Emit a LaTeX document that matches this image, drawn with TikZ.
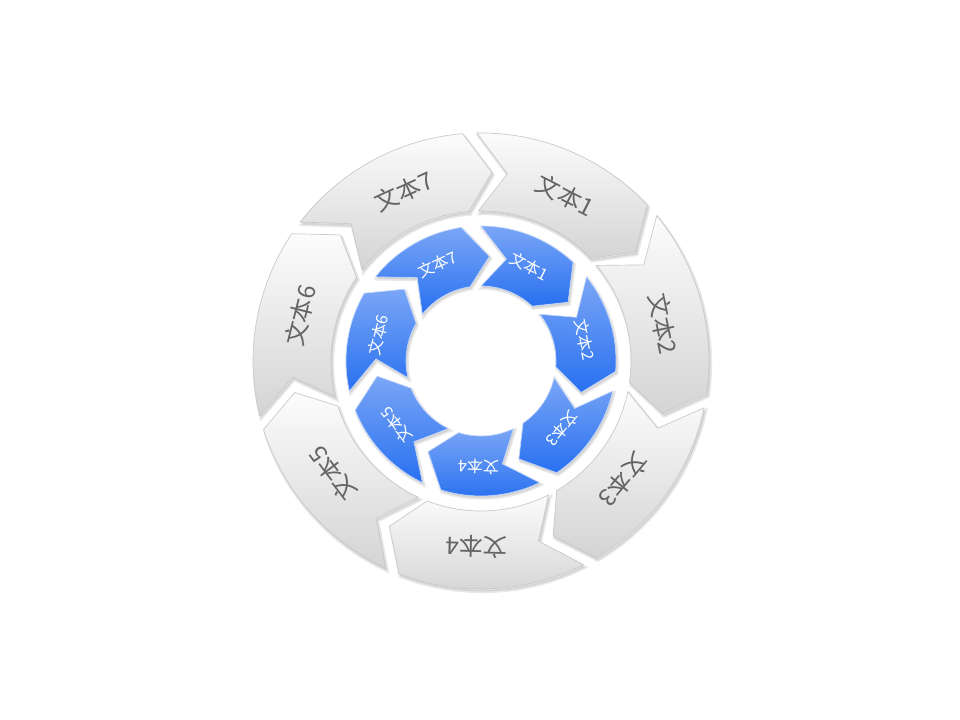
\documentclass[tikz,border=0pt]{standalone}
\usepackage{fontspec}
\setmainfont{Noto Sans CJK SC}
\definecolor{blueA}{RGB}{122,166,246}
\definecolor{blueB}{RGB}{40,112,240}
\definecolor{grayA}{RGB}{252,252,252}
\definecolor{grayB}{RGB}{212,212,212}
\definecolor{grayEdge}{RGB}{200,200,200}
\definecolor{labelgray}{RGB}{100,100,100}
\begin{document}
\begin{tikzpicture}[x=0.75pt,y=0.75pt,
  graypart/.style={top color=grayA, bottom color=grayB, draw=grayEdge, line width=0.5pt},
  bluepart/.style={top color=blueA, bottom color=blueB, draw=white!55!blueA, line width=0.5pt},
  shadowpart/.style={fill=black, draw=black, line width=2.5pt, opacity=0.09},
  outerlabel/.style={text=labelgray, font=\fontsize{18}{18}\selectfont, inner sep=0pt},
  innerlabel/.style={text=white, font=\fontsize{12}{12}\selectfont, inner sep=0pt}]
\useasboundingbox (-481,-359) rectangle (479,361);
% ---------- outer ring ----------
\foreach \i/\c in {1/63,2/11.57,3/-39.86,4/-91.29,5/-142.71,6/165.86,7/114.43} {
  \pgfmathsetmacro\aA{\c+28}
  \pgfmathsetmacro\aB{\c-19.8}
  \pgfmathsetmacro\aT{\c-27.7}
  \pgfmathsetmacro\aN{\c+19}
  \path[shadowpart, shift={(1.5,-2.5)}] (\aA:228) arc[start angle=\aA, end angle=\aB, radius=228]
     -- (\aT:189) -- (\aB:150) arc[start angle=\aB, end angle=\aA, radius=150] -- (\aN:189) -- cycle;
}
\foreach \i/\c in {1/63,2/11.57,3/-39.86,4/-91.29,5/-142.71,6/165.86,7/114.43} {
  \pgfmathsetmacro\aA{\c+28}
  \pgfmathsetmacro\aB{\c-19.8}
  \pgfmathsetmacro\aT{\c-27.7}
  \pgfmathsetmacro\aN{\c+19}
  \path[graypart] (\aA:228) arc[start angle=\aA, end angle=\aB, radius=228]
     -- (\aT:189) -- (\aB:150) arc[start angle=\aB, end angle=\aA, radius=150] -- (\aN:189) -- cycle;
  \node[outerlabel, rotate=\c-90] (o\i) at (\c:186) {文本\i};
}
% ---------- inner ring ----------
\foreach \i/\c in {1/63,2/11.57,3/-39.86,4/-91.29,5/-142.71,6/165.86,7/114.43} {
  \pgfmathsetmacro\aA{\c+27}
  \pgfmathsetmacro\aB{\c-16}
  \pgfmathsetmacro\aT{\c-29}
  \pgfmathsetmacro\aN{\c+13}
  \path[shadowpart, shift={(1.2,-2)}] (\aA:135) arc[start angle=\aA, end angle=\aB, radius=135]
     -- (\aT:105) -- (\aB:75) arc[start angle=\aB, end angle=\aA, radius=75] -- (\aN:105) -- cycle;
}
\foreach \i/\c in {1/63,2/11.57,3/-39.86,4/-91.29,5/-142.71,6/165.86,7/114.43} {
  \pgfmathsetmacro\aA{\c+27}
  \pgfmathsetmacro\aB{\c-16}
  \pgfmathsetmacro\aT{\c-29}
  \pgfmathsetmacro\aN{\c+13}
  \path[bluepart] (\aA:135) arc[start angle=\aA, end angle=\aB, radius=135]
     -- (\aT:105) -- (\aB:75) arc[start angle=\aB, end angle=\aA, radius=75] -- (\aN:105) -- cycle;
  \node[innerlabel, rotate=\c-90] (b\i) at (\c:106) {文本\i};
}
\end{tikzpicture}
\end{document}
